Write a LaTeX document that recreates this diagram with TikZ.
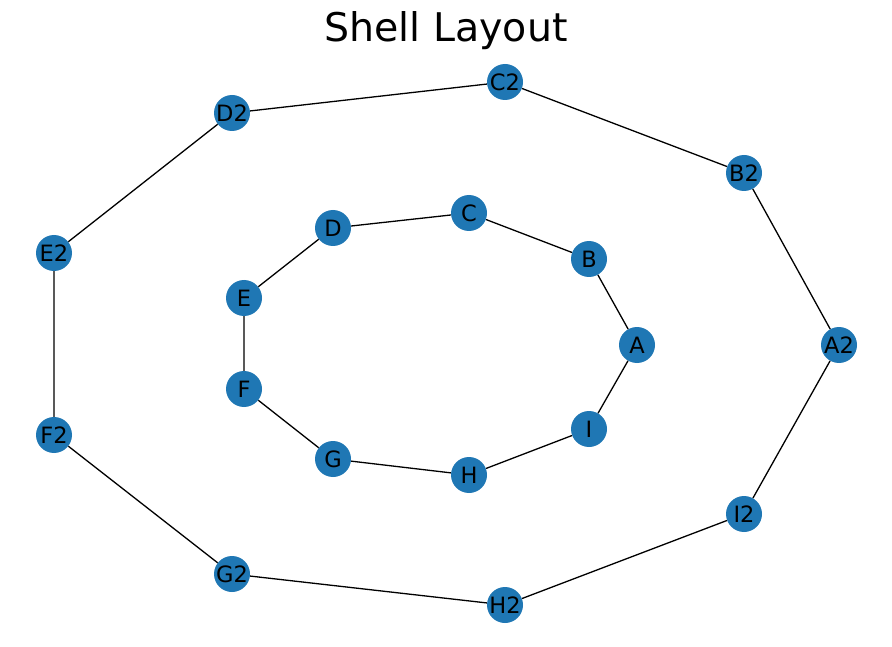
\documentclass[tikz,border=0pt]{standalone}
\usepackage{fontspec}
\setmainfont{DejaVu Sans}
\definecolor{nodeblue}{HTML}{1F77B4}
\begin{document}
\begin{tikzpicture}[x=1pt,y=-1pt,
  vtx/.style={circle,fill=nodeblue,minimum size=36pt,inner sep=0pt,font=\fontsize{22.5}{24}\selectfont},
  edge/.style={black,line width=1.3pt}]
\useasboundingbox (0,0) rectangle (892,647);
\node[font=\fontsize{39.5}{42}\selectfont] (title) at (446,31) {Shell Layout};
% inner
\node[vtx] (A) at (637,345) {A};
\node[vtx] (B) at (589,259) {B};
\node[vtx] (C) at (469,213) {C};
\node[vtx] (D) at (333,228) {D};
\node[vtx] (E) at (244,298) {E};
\node[vtx] (F) at (244,389) {F};
\node[vtx] (G) at (333,459) {G};
\node[vtx] (H) at (469,475) {H};
\node[vtx] (I) at (589,429) {I};
% outer
\node[vtx] (A2) at (839,345) {A2};
\node[vtx] (B2) at (744,173) {B2};
\node[vtx] (C2) at (505,82) {C2};
\node[vtx] (D2) at (232,113) {D2};
\node[vtx] (E2) at (54,253) {E2};
\node[vtx] (F2) at (54,435) {F2};
\node[vtx] (G2) at (232,574) {G2};
\node[vtx] (H2) at (505,605) {H2};
\node[vtx] (I2) at (744,514) {I2};
\draw[edge] (A)--(B) (B)--(C) (C)--(D) (D)--(E) (E)--(F) (F)--(G) (G)--(H) (H)--(I) (I)--(A);
\draw[edge] (A2)--(B2) (B2)--(C2) (C2)--(D2) (D2)--(E2) (E2)--(F2) (F2)--(G2) (G2)--(H2) (H2)--(I2) (I2)--(A2);
\end{tikzpicture}
\end{document}
